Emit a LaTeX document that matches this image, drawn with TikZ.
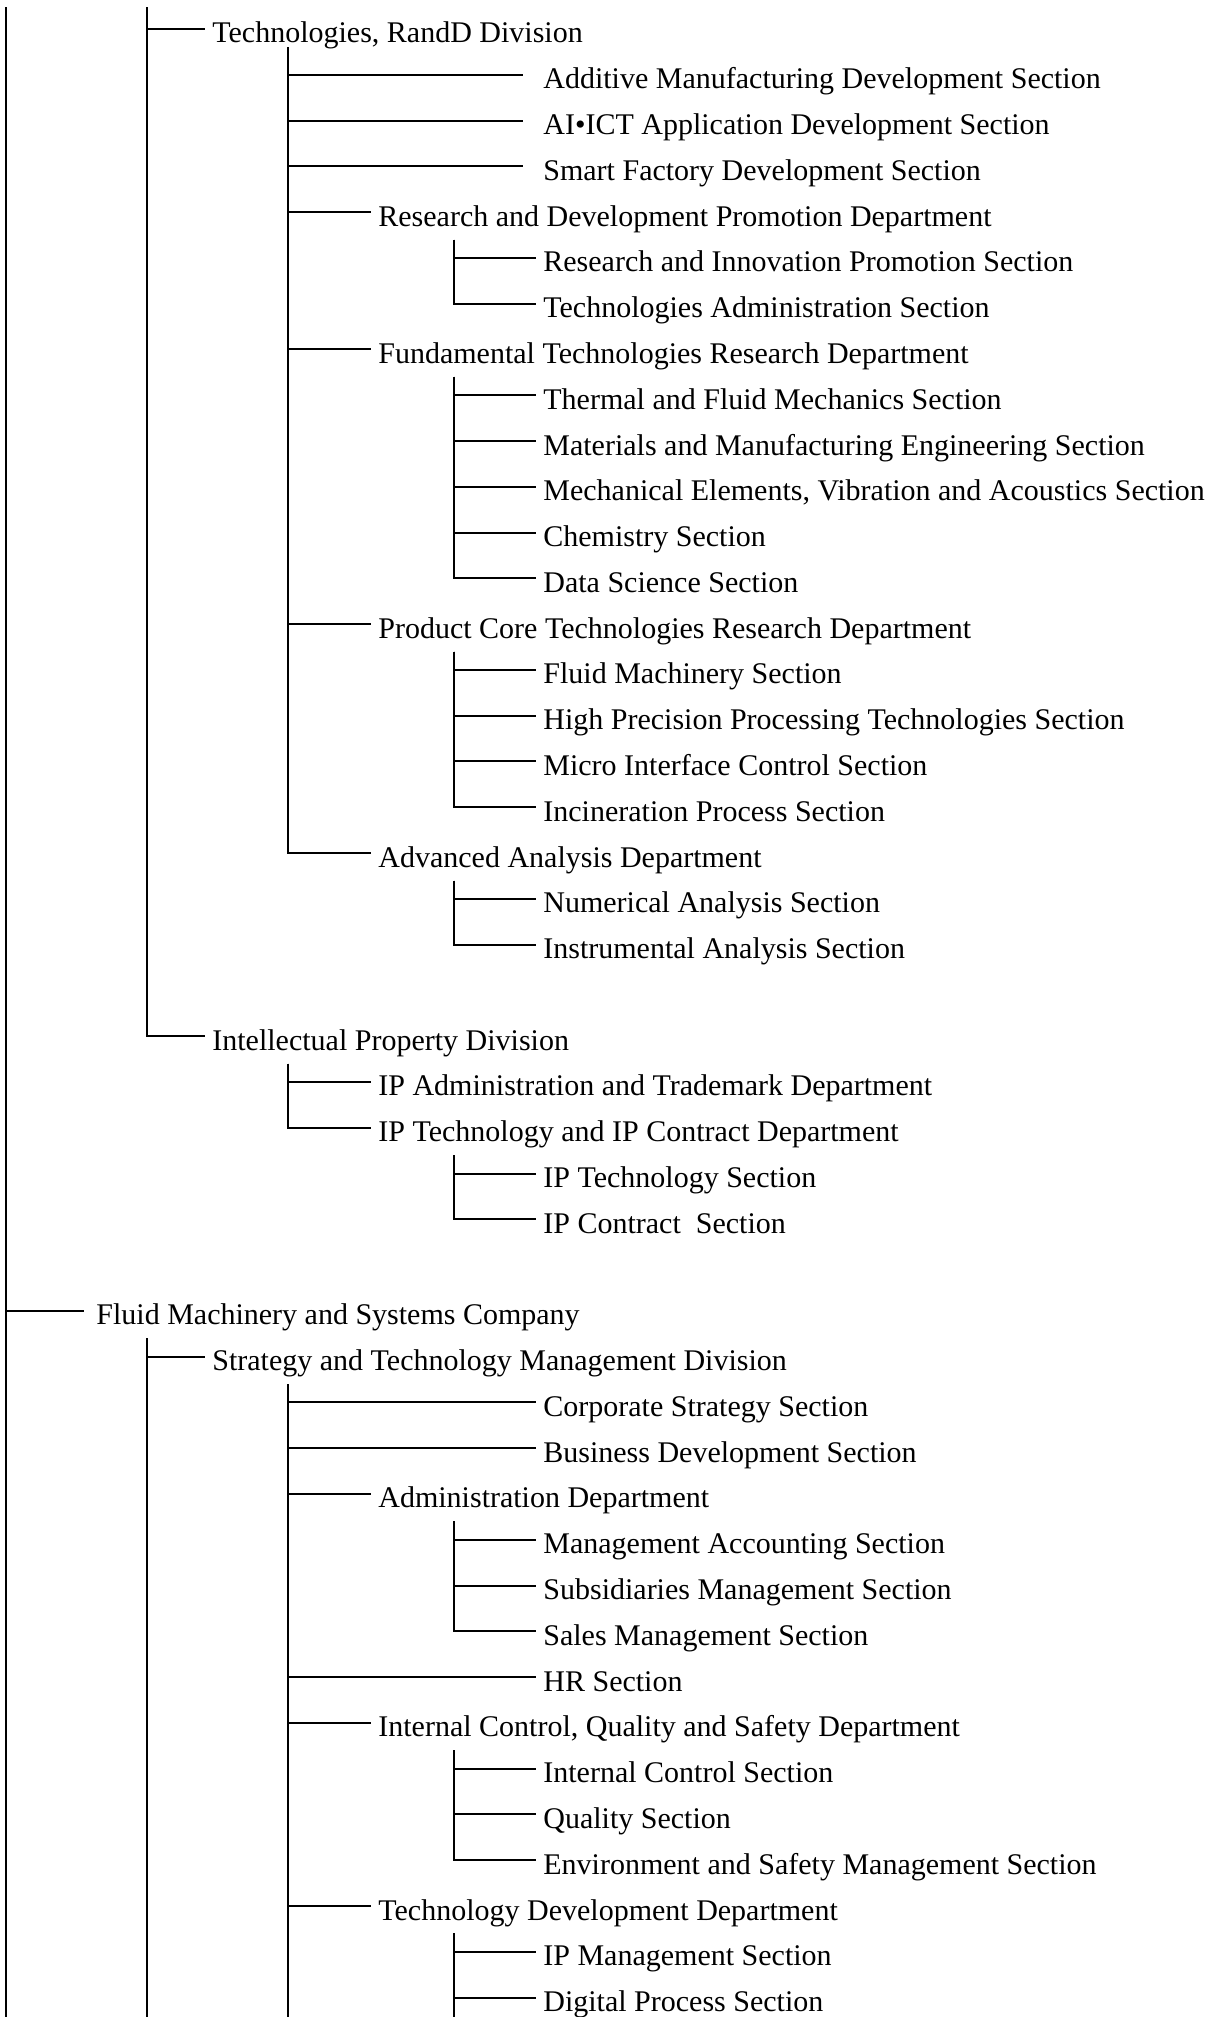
\documentclass[tikz,border=0pt]{standalone}
\usepackage{fontspec}
\setmainfont{Liberation Serif}

\tikzset{
  unit/.style={anchor=west, inner sep=0pt, text height=14pt, text depth=0pt,
               font=\fontsize{15}{18}\selectfont},
  link/.style={line width=1pt, shorten >=3.75pt},
  trunk/.style={line width=1pt}
}

\begin{document}
\begin{tikzpicture}[x=0.5pt, y=-22.89pt]
\useasboundingbox (0,-0.6335) rectangle (1211,43.4251);
%insert company and divisions
    \node[unit] (techdiv) at (212,0) {Technologies, RandD Division};
    \node[unit] (ipdiv) at (212,22) {Intellectual Property Division};
    \node[unit] (fmsco) at (96,28) {Fluid Machinery and Systems Company};
    \node[unit] (stmdiv) at (212,29) {Strategy and Technology Management Division};
%insert departments
    \node[unit] (rdpdept) at (378,4) {Research and Development Promotion Department};
    \node[unit] (ftrdept) at (378,7) {Fundamental Technologies Research Department};
    \node[unit] (pctdept) at (378,13) {Product Core Technologies Research Department};
    \node[unit] (aadept) at (378,18) {Advanced Analysis Department};
    \node[unit] (ipadept) at (378,23) {IP Administration and Trademark Department};
    \node[unit] (iptcdept) at (378,24) {IP Technology and IP Contract Department};
    \node[unit] (admdept) at (378,32) {Administration Department};
    \node[unit] (icqdept) at (378,37) {Internal Control, Quality and Safety Department};
    \node[unit] (tddept) at (378,41) {Technology Development Department};
%insert sections
    \node[unit] (addsec) at (543,1) {Additive Manufacturing Development Section};
    \node[unit] (aisec) at (543,2) {AI•ICT Application Development Section};
    \node[unit] (smartsec) at (543,3) {Smart Factory Development Section};
    \node[unit] (risec) at (543,5) {Research and Innovation Promotion Section};
    \node[unit] (tasec) at (543,6) {Technologies Administration Section};
    \node[unit] (tfsec) at (543,8) {Thermal and Fluid Mechanics Section};
    \node[unit] (mmsec) at (543,9) {Materials and Manufacturing Engineering Section};
    \node[unit] (mvasec) at (543,10) {Mechanical Elements, Vibration and Acoustics Section};
    \node[unit] (chemsec) at (543,11) {Chemistry Section};
    \node[unit] (dssec) at (543,12) {Data Science Section};
    \node[unit] (fmsec) at (543,14) {Fluid Machinery Section};
    \node[unit] (hpsec) at (543,15) {High Precision Processing Technologies Section};
    \node[unit] (misec) at (543,16) {Micro Interface Control Section};
    \node[unit] (incsec) at (543,17) {Incineration Process Section};
    \node[unit] (nasec) at (543,19) {Numerical Analysis Section};
    \node[unit] (iasec) at (543,20) {Instrumental Analysis Section};
    \node[unit] (iptsec) at (543,25) {IP Technology Section};
    \node[unit] (ipcsec) at (543,26) {IP Contract~ Section};
    \node[unit] (cssec) at (543,30) {Corporate Strategy Section};
    \node[unit] (bdsec) at (543,31) {Business Development Section};
    \node[unit] (masec) at (543,33) {Management Accounting Section};
    \node[unit] (smsec) at (543,34) {Subsidiaries Management Section};
    \node[unit] (salsec) at (543,35) {Sales Management Section};
    \node[unit] (hrsec) at (543,36) {HR Section};
    \node[unit] (icsec) at (543,38) {Internal Control Section};
    \node[unit] (qsec) at (543,39) {Quality Section};
    \node[unit] (essec) at (543,40) {Environment and Safety Management Section};
    \node[unit] (ipmsec) at (543,42) {IP Management Section};
    \node[unit] (dpsec) at (543,43) {Digital Process Section};
%trunk tops and ends
    \coordinate (t0) at (6,-0.48);   \coordinate (b0) at (6,43.43);
    \coordinate (t1a) at (147,-0.48);
    \coordinate (t2a) at (288,0.4);
    \coordinate (t3a) at (454,4.6);
    \coordinate (t3b) at (454,7.6);
    \coordinate (t3c) at (454,13.6);
    \coordinate (t3d) at (454,18.6);
    \coordinate (t2b) at (288,22.6);
    \coordinate (t3e) at (454,24.6);
    \coordinate (t1b) at (147,28.6); \coordinate (b1) at (147,43.43);
    \coordinate (t2c) at (288,29.6); \coordinate (b2) at (288,43.43);
    \coordinate (t3f) at (454,32.6);
    \coordinate (t3g) at (454,37.6);
    \coordinate (t3h) at (454,41.6); \coordinate (b3) at (454,43.43);
%draw trunks running off the page
    \draw[trunk] (t0) -- (b0);
    \draw[trunk] (t1b) -- (b1);
    \draw[trunk] (t2c) -- (b2);
    \draw[trunk] (t3h) -- (b3);
%draw branches
    \draw[link, shorten >=6pt] (t0) |- (fmsco.west);
    \foreach \n in {techdiv,ipdiv} \draw[link] (t1a) |- (\n.west);
    \foreach \n in {addsec,aisec,smartsec} \draw[link, shorten >=10pt] (t2a) |- (\n.west);
    \foreach \n in {rdpdept,ftrdept,pctdept,aadept} \draw[link] (t2a) |- (\n.west);
    \foreach \n in {risec,tasec} \draw[link] (t3a) |- (\n.west);
    \foreach \n in {tfsec,mmsec,mvasec,chemsec,dssec} \draw[link] (t3b) |- (\n.west);
    \foreach \n in {fmsec,hpsec,misec,incsec} \draw[link] (t3c) |- (\n.west);
    \foreach \n in {nasec,iasec} \draw[link] (t3d) |- (\n.west);
    \foreach \n in {ipadept,iptcdept} \draw[link] (t2b) |- (\n.west);
    \foreach \n in {iptsec,ipcsec} \draw[link] (t3e) |- (\n.west);
    \draw[link] (t1b) |- (stmdiv.west);
    \foreach \n in {cssec,bdsec,admdept,hrsec,icqdept,tddept} \draw[link] (t2c) |- (\n.west);
    \foreach \n in {masec,smsec,salsec} \draw[link] (t3f) |- (\n.west);
    \foreach \n in {icsec,qsec,essec} \draw[link] (t3g) |- (\n.west);
    \foreach \n in {ipmsec,dpsec} \draw[link] (t3h) |- (\n.west);
\end{tikzpicture}
\end{document}
